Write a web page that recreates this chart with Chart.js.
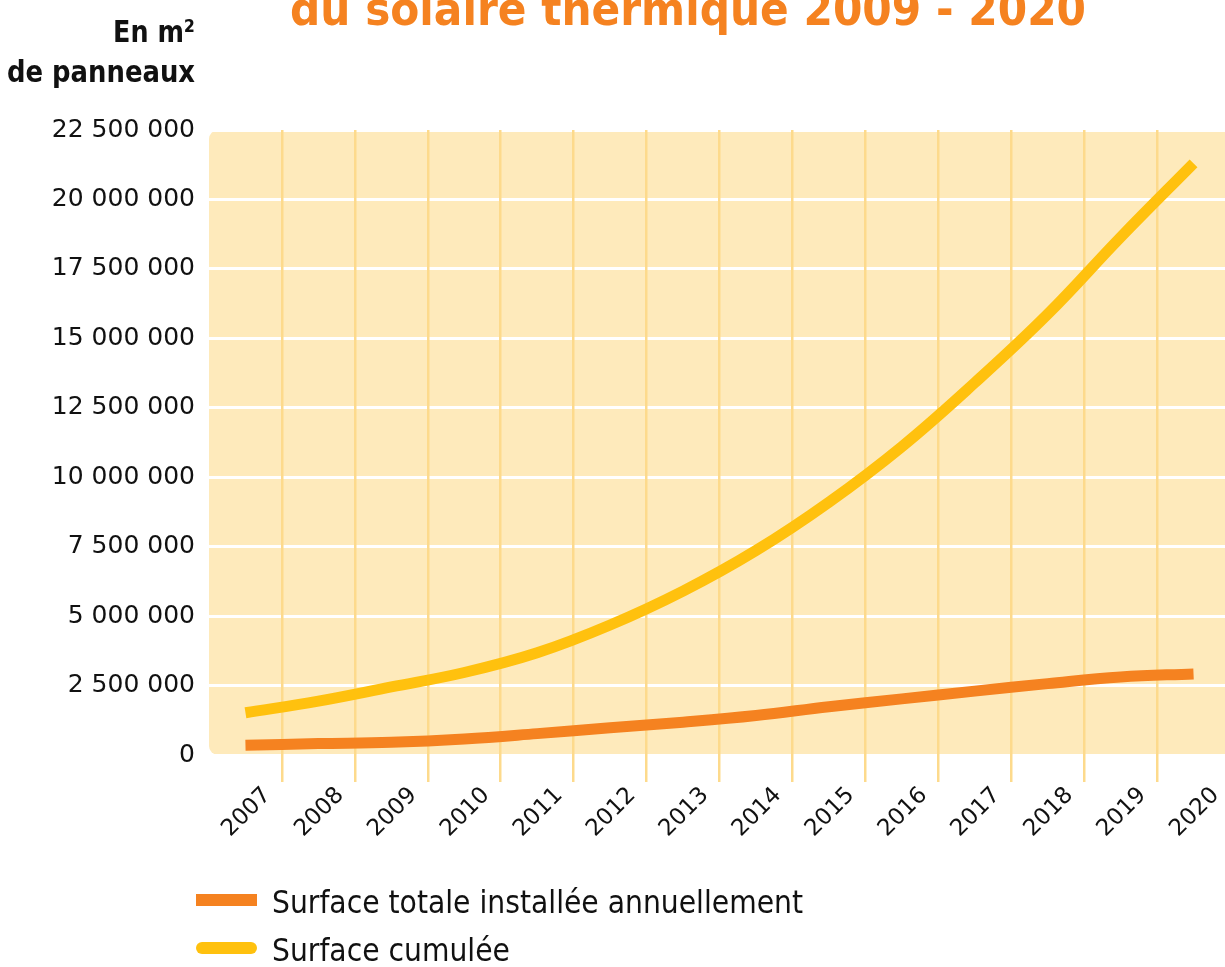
<!DOCTYPE html>
<html>
<head>
<meta charset="utf-8">
<script src="https://cdn.jsdelivr.net/npm/chart.js@4.4.1/dist/chart.umd.min.js"></script>
<style>
  html, body { margin: 0; padding: 0; background: #fff; overflow: hidden; width: 1225px; height: 967px; }
  canvas { display: block; }
</style>
</head>
<body>
<canvas id="c" width="1240" height="967"></canvas>
<script>
// ---- data ----
const titleText = 'du solaire thermique 2009 - 2020';
const unitLines = ['En m²', 'de panneaux'];
const years = ['2007','2008','2009','2010','2011','2012','2013','2014','2015','2016','2017','2018','2019','2020'];
const annualSurface = [350000, 410000, 460000, 580000, 770000, 980000, 1180000, 1420000, 1740000, 2020000, 2300000, 2570000, 2810000, 2920000];
const cumulativeSurface = [1520000, 1940000, 2450000, 2970000, 3680000, 4680000, 5900000, 7360000, 9100000, 11100000, 13400000, 15870000, 18640000, 21300000];
const seriesLabels = ['Surface totale installée annuellement', 'Surface cumulée'];
const yTickValues = [0, 2500000, 5000000, 7500000, 10000000, 12500000, 15000000, 17500000, 20000000, 22500000];

const ORANGE = '#F58220';
const YELLOW = '#FFC10E';
const PLOT_BG = '#FEEABB';
const VGRID = '#FDDA8C';

function fmt(v) {
  return String(v).replace(/\B(?=(\d{3})+(?!\d))/g, ' ');
}

function drawText(ctx, text, x, y, font, color, align, targetWidth, sx) {
  ctx.save();
  ctx.font = font;
  ctx.fillStyle = color;
  ctx.textBaseline = 'alphabetic';
  ctx.textAlign = align;
  const w = ctx.measureText(text).width;
  const s = targetWidth ? targetWidth / w : (sx || 1);
  ctx.translate(x, y);
  ctx.scale(s, 1);
  ctx.fillText(text, 0, 0);
  ctx.restore();
}

const decor = {
  id: 'decor',
  beforeDraw(chart) {
    const { ctx, chartArea: a } = chart;
    ctx.save();
    ctx.fillStyle = PLOT_BG;
    ctx.beginPath();
    ctx.roundRect(a.left, a.top, a.right - a.left, a.bottom - a.top, 9);
    ctx.fill();
    ctx.restore();
  },
  afterDraw(chart) {
    const ctx = chart.ctx;
    // title (cut at the top like the reference)
    drawText(ctx, titleText, 688, 25, '600 46px "DejaVu Sans", sans-serif', ORANGE, 'center', 796);
    // unit label
    drawText(ctx, unitLines[0], 195, 42, 'bold 31px "DejaVu Sans", sans-serif', '#111', 'right', null, 0.82);
    drawText(ctx, unitLines[1], 195, 82, 'bold 31px "DejaVu Sans", sans-serif', '#111', 'right', 188);
    // legend
    const ds = chart.data.datasets;
    const rows = [{ y: 900, ty: 913 }, { y: 948, ty: 961 }];
    ds.forEach((d, i) => {
      const r = rows[i];
      ctx.save();
      ctx.strokeStyle = d.borderColor;
      ctx.lineWidth = 12;
      ctx.lineCap = i === 0 ? 'butt' : 'round';
      ctx.beginPath();
      ctx.moveTo(i === 0 ? 196 : 202, r.y);
      ctx.lineTo(i === 0 ? 257 : 251, r.y);
      ctx.stroke();
      ctx.restore();
      drawText(ctx, d.label, 272, r.ty, '32px "DejaVu Sans", sans-serif', '#111', 'left', i === 0 ? 531 : null, 531 / 602);
    });
  }
};

new Chart(document.getElementById('c'), {
  type: 'line',
  data: {
    labels: years,
    datasets: [
      {
        label: seriesLabels[0],
        data: annualSurface,
        borderColor: ORANGE,
        backgroundColor: ORANGE,
        borderWidth: 11,
        pointRadius: 0,
        tension: 0.4,
        fill: false
      },
      {
        label: seriesLabels[1],
        data: cumulativeSurface,
        borderColor: YELLOW,
        backgroundColor: YELLOW,
        borderWidth: 11,
        pointRadius: 0,
        tension: 0.4,
        fill: false
      }
    ]
  },
  options: {
    responsive: false,
    animation: false,
    devicePixelRatio: 1,
    layout: { padding: { left: 0, right: 10, top: 130, bottom: 120 } },
    plugins: {
      legend: { display: false },
      tooltip: { enabled: false },
      title: { display: false }
    },
    scales: {
      y: {
        min: 0,
        max: 22500000,
        afterFit(scale) { scale.width = 209; },
        afterBuildTicks(scale) { scale.ticks = yTickValues.map(v => ({ value: v })); },
        ticks: {
          callback: (v) => fmt(v),
          padding: 14,
          color: '#111',
          font: { family: '"DejaVu Sans", sans-serif', size: 25 }
        },
        grid: { color: '#FFFFFF', lineWidth: 3, drawTicks: false, z: -2 },
        border: { display: false }
      },
      x: {
        offset: true,
        afterFit(scale) { scale.height = 92; },
        ticks: {
          autoSkip: false,
          maxRotation: 45,
          minRotation: 45,
          labelOffset: 22,
          padding: 0,
          color: '#111',
          font: { family: '"DejaVu Sans", sans-serif', size: 23 }
        },
        grid: {
          offset: true,
          color: (c) => (c.index === 0 ? 'rgba(0,0,0,0)' : VGRID),
          lineWidth: 2.5,
          drawTicks: true,
          tickLength: 27,
          z: -1
        },
        border: { display: false }
      }
    }
  },
  plugins: [decor]
});
</script>
</body>
</html>
